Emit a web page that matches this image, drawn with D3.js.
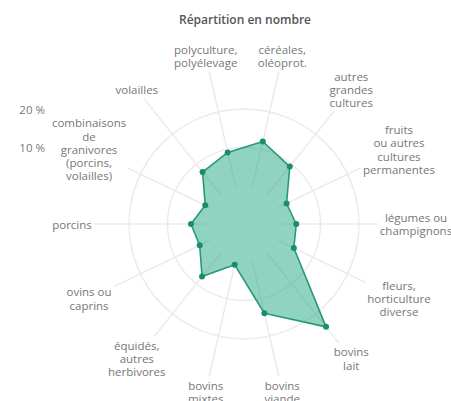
<!DOCTYPE html>
<html><head><meta charset="utf-8">
<script src="https://cdn.jsdelivr.net/npm/d3@7"></script>
<style>body{margin:0;background:#fff}svg{display:block}</style>
</head><body>
<script>
const categories = [
 ["céréales,","oléoprot."],
 ["autres","grandes","cultures"],
 ["fruits","ou autres","cultures","permanentes"],
 ["légumes ou","champignons"],
 ["fleurs,","horticulture","diverse"],
 ["bovins","lait"],
 ["bovins","viande"],
 ["bovins","mixtes"],
 ["équidés,","autres","herbivores"],
 ["ovins ou","caprins"],
 ["porcins"],
 ["combinaisons","de","granivores","(porcins,","volailles)"],
 ["volailles"],
 ["polyculture,","polyélevage"]
];
const values = [12.1, 9.2, 2.4, 3.7, 4.5, 24.3, 13.9, 1.0, 7.6, 2.9, 3.9, 1.3, 7.4, 9.2];
const ringValues = [10, 20];
const ringLabels = ["10 %", "20 %"];
const title = "Répartition en nombre";

const W = 451, H = 401, cx = 244, cy = 224;
const n = categories.length;
const svg = d3.select("body").append("svg").attr("width", W).attr("height", H)
  .style("font-family", "'Open Sans', sans-serif");

const r = d3.scaleLinear().domain([0, 20]).range([38, 115]);
const angle = d3.scaleLinear().domain([0, n]).range([0, 2 * Math.PI]);
const a = i => angle(i + 0.5);
const labelR = 172, spokeEnd = 160;

svg.append("text").attr("x", 245).attr("y", 19).attr("text-anchor", "middle")
  .attr("dominant-baseline", "central").attr("font-size", 12).attr("font-weight", 600)
  .attr("fill", "#555").text(title);

const g = svg.append("g").attr("transform", `translate(${cx},${cy})`);
const grid = "#ebebeb";

g.selectAll("circle.ring").data(ringValues).join("circle").attr("class", "ring")
  .attr("r", d => r(d)).attr("fill", "none").attr("stroke", grid).attr("stroke-width", 1.5);

g.selectAll("line.spoke").data(categories).join("line").attr("class", "spoke")
  .attr("x1", (d, i) => r(0) * Math.sin(a(i))).attr("y1", (d, i) => -r(0) * Math.cos(a(i)))
  .attr("x2", (d, i) => spokeEnd * Math.sin(a(i))).attr("y2", (d, i) => -spokeEnd * Math.cos(a(i)))
  .attr("stroke", grid).attr("stroke-width", 1.5);

const line = d3.lineRadial().angle((d, i) => a(i)).radius(d => r(d)).curve(d3.curveLinearClosed);
g.append("path").datum(values).attr("d", line)
  .attr("fill", "#21a883").attr("fill-opacity", 0.5)
  .attr("stroke", "#27997a").attr("stroke-width", 1.6).attr("stroke-linejoin", "round");

g.selectAll("circle.pt").data(values).join("circle").attr("class", "pt")
  .attr("cx", (d, i) => r(d) * Math.sin(a(i))).attr("cy", (d, i) => -r(d) * Math.cos(a(i)))
  .attr("r", 3).attr("fill", "#1b8d69");

const lh = 13.3;
const lg = g.selectAll("g.lab").data(categories).join("g").attr("class", "lab")
  .attr("transform", (d, i) => `translate(${labelR * Math.sin(a(i))},${-labelR * Math.cos(a(i))})`);
const bg = lg.append("rect").attr("fill", "#fff");
const tx = lg.append("text").attr("text-anchor", "middle").attr("font-size", 11.5).attr("fill", "#777");
tx.selectAll("tspan").data(d => d.map((t, k) => ({t, k, n: d.length}))).join("tspan")
  .attr("x", 0).attr("y", d => (d.k - (d.n - 1) / 2) * lh).attr("dominant-baseline", "central")
  .text(d => d.t);
lg.each(function() {
  const t = d3.select(this).select("text").node().getBBox();
  d3.select(this).select("rect").attr("x", t.x - 2).attr("y", t.y - 1)
    .attr("width", t.width + 4).attr("height", t.height + 2);
});

svg.selectAll("text.ringlab").data(ringValues).join("text").attr("class", "ringlab")
  .attr("x", 45).attr("y", d => cy - r(d)).attr("text-anchor", "end")
  .attr("dominant-baseline", "central").attr("font-size", 11.5).attr("fill", "#777")
  .text((d, i) => ringLabels[i]);
</script>
</body></html>
